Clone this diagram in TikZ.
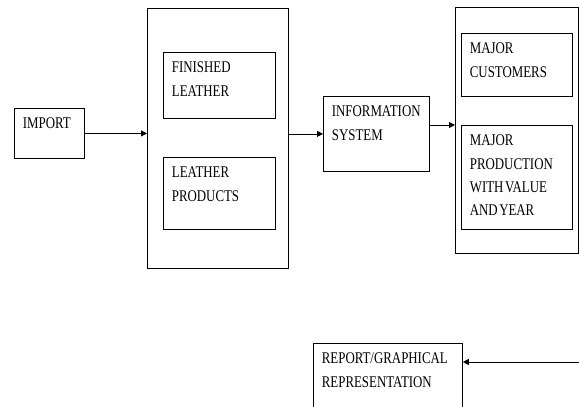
\documentclass[tikz,border=0pt]{standalone}
\usepackage{fontspec}
\setmainfont{Liberation Serif}[FakeStretch=0.79]
\usetikzlibrary{arrows.meta, calc}

\newcommand{\boxfont}{\fontsize{16.3}{23.2}\selectfont}
\newcommand{\tsp}{\hspace{1.5pt}}

\tikzset{
    blk/.style 2 args={draw, line width=0.8pt, anchor=north west, align=left,
        inner xsep=8.5pt, inner ysep=0pt, text width=#1, text height=20.5pt, text depth=#2},
    frame/.style 2 args={draw, line width=0.8pt, anchor=north west, inner sep=0pt,
        minimum width=#1, minimum height=#2},
    flow/.style={->, line width=0.8pt}
}

\begin{document}
\begin{tikzpicture}[x=1pt, y=-1pt, >={Triangle[length=6pt, width=6pt]},
    every node/.style={font=\boxfont}]
    \useasboundingbox (0,0) rectangle (579,407);

    % Import
    \node[blk={53pt}{29.5pt}] (import) at (14,108) {IMPORT};

    % Leather trade group
    \node[frame={141pt}{260pt}] (trade) at (147,8) {};
    \node[blk={95pt}{45.5pt}] (finished) at (163,52) {FINISHED\\LEATHER};
    \node[blk={95pt}{51.5pt}] (products) at (163,157) {LEATHER\\PRODUCTS};

    % Information system
    \node[blk={89pt}{54.5pt}] (info) at (323,96) {INFORMATION\\SYSTEM};

    % Output group
    \node[frame={123pt}{246pt}] (output) at (455,7) {};
    \node[blk={94pt}{42.5pt}] (customers) at (461,33) {MAJOR\\CUSTOMERS};
    \node[blk={94pt}{83.5pt}] (production) at (461,125) {MAJOR\\PRODUCTION\\WITH\tsp VALUE\\AND\tsp YEAR};

    % Report
    \node[blk={132pt}{49.5pt}] (report) at (313,343) {REPORT/GRAPHICAL\\REPRESENTATION};
    \coordinate (feed) at (579,362);

    % Flows
    \draw[flow] (import.east) -- (import.east -| trade.west);
    \draw[flow] (info.west -| trade.east) -- (info.west);
    \draw[flow] (info.east |- production.north) -- (output.west |- production.north);
    \draw[flow] (feed) -- (feed -| report.east);
\end{tikzpicture}
\end{document}
